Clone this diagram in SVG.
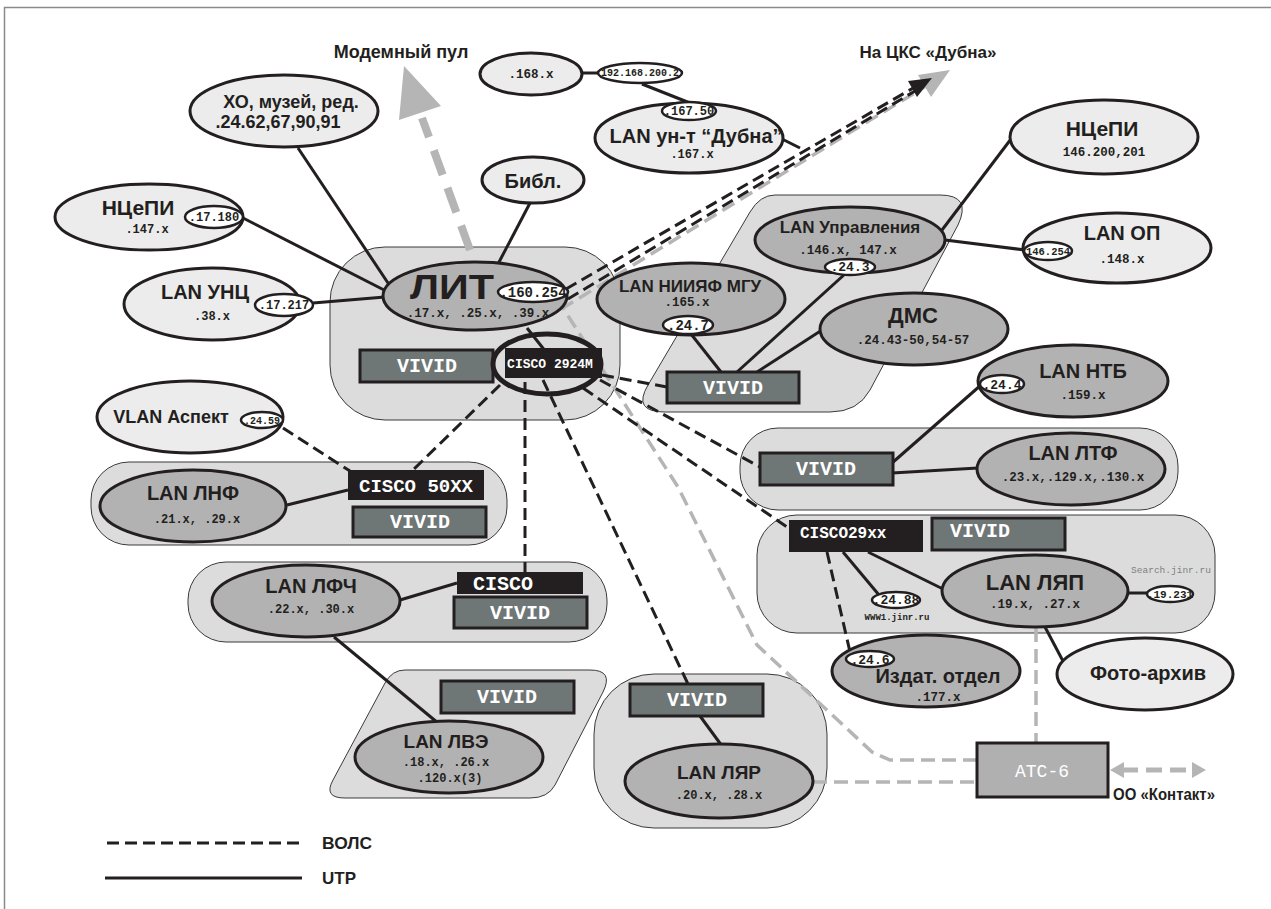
<svg xmlns="http://www.w3.org/2000/svg" width="1271" height="909" viewBox="0 0 1271 909">
<defs>
<style>
.lt{fill:#ececec;stroke:#231f20;stroke-width:3}
.md{fill:#b2b2b2;stroke:#231f20;stroke-width:3}
.ip{fill:#fff;stroke:#231f20;stroke-width:2.5}
.blob{fill:#dcdcdc;stroke:#3a3a3a;stroke-width:1}
.viv{fill:#6f7676;stroke:#231f20;stroke-width:3}
.blk{fill:#231f20}
.utp{stroke:#231f20;stroke-width:3;fill:none}
.fo{stroke:#231f20;stroke-width:3;stroke-dasharray:12 6;fill:none}
.gd{stroke:#b5b5b5;stroke-width:3.5;stroke-dasharray:14 7;fill:none}
.t{font-family:"Liberation Sans",Arial,sans-serif;font-weight:bold;fill:#231f20;text-anchor:middle}
.m{font-family:"Liberation Mono","Courier New",monospace;font-weight:bold;fill:#231f20;text-anchor:middle}
.w{font-family:"Liberation Mono","Courier New",monospace;font-weight:bold;fill:#fff;text-anchor:middle}
.ws{font-family:"Liberation Mono","Courier New",monospace;font-weight:bold;fill:#fff;text-anchor:start}
</style>
</defs>
<rect x="0" y="0" width="1271" height="909" fill="#fff"/>
<path d="M4.5,909 V7.5 H1271" fill="none" stroke="#8a8a8a" stroke-width="1.5"/>

<g id="areas">
<rect class="blob" x="330" y="247" width="290" height="173" rx="55"/>
<path class="blob" d="M775,195 L940,195 Q972,195 958,225 L870,390 Q858,412 830,412 L665,412 Q632,412 648,385 L750,212 Q760,195 775,195 Z"/>
<rect class="blob" x="91" y="462" width="416" height="83" rx="38"/>
<rect class="blob" x="188" y="562" width="419" height="80" rx="38"/>
<path class="blob" d="M405,670 L590,670 Q614,670 603,692 L555,785 Q548,798 530,798 L345,798 Q323,798 333,780 L385,683 Q392,670 405,670 Z"/>
<rect class="blob" x="594" y="674" width="233" height="154" rx="60"/>
<rect class="blob" x="740" y="428" width="438" height="82" rx="38"/>
<rect class="blob" x="757" y="515" width="458" height="118" rx="40"/>
</g>

<g id="connectors">
<line x1="470" y1="250" x2="422" y2="118" stroke="#b5b5b5" stroke-width="8" stroke-dasharray="26 14"/>
<polygon points="404,66 441,106 399,120" fill="#b5b5b5"/>
<polyline class="gd" points="977,760 890,760 872,752 757,645 678,487 563,308 926,86"/>
<polygon points="950,70 931,97 918,75" fill="#b5b5b5"/>
<line class="fo" x1="566" y1="289" x2="915" y2="87"/>
<line class="fo" x1="568" y1="299" x2="915" y2="91"/>
<polygon points="932,78 917,97 908,81" fill="#231f20"/>
<line class="utp" x1="298" y1="148" x2="390" y2="286"/>
<line class="utp" x1="243" y1="218" x2="386" y2="291"/>
<line class="utp" x1="313" y1="303" x2="385" y2="297"/>
<line class="utp" x1="530" y1="203" x2="498" y2="264"/>
<line class="utp" x1="582" y1="73" x2="598" y2="73"/>
<line class="utp" x1="642" y1="84" x2="690" y2="103"/>
<line class="utp" x1="782" y1="139" x2="800" y2="148"/>
<line class="utp" x1="527" y1="328" x2="546" y2="352"/>
<line class="utp" x1="942" y1="230" x2="1011" y2="139"/>
<line class="utp" x1="945" y1="240" x2="1025" y2="250"/>
<line class="utp" x1="845" y1="274" x2="737" y2="372"/>
<line class="utp" x1="757" y1="372" x2="822" y2="330"/>
<line class="utp" x1="691" y1="334" x2="721" y2="372"/>
<line class="utp" x1="981" y1="385" x2="892" y2="463"/>
<line class="utp" x1="892" y1="473" x2="978" y2="468"/>
<line class="utp" x1="287" y1="505" x2="348" y2="490"/>
<line class="utp" x1="400" y1="600" x2="457" y2="583"/>
<line class="utp" x1="334" y1="637" x2="438" y2="723"/>
<line class="utp" x1="700" y1="716" x2="722" y2="746"/>
<line class="utp" x1="868" y1="552" x2="943" y2="589"/>
<line class="utp" x1="843" y1="552" x2="879" y2="595"/>
<line class="utp" x1="1128" y1="593" x2="1147" y2="593"/>
<line class="utp" x1="1045" y1="627" x2="1064" y2="663"/>
<line class="fo" x1="500" y1="385" x2="413" y2="470"/>
<line class="fo" x1="525" y1="382" x2="525" y2="572"/>
<line class="fo" x1="543" y1="380" x2="688" y2="684"/>
<line class="fo" x1="600" y1="380" x2="760" y2="467"/>
<line class="fo" x1="583" y1="388" x2="790" y2="529"/>
<line class="fo" x1="602" y1="375" x2="667" y2="387"/>
<line class="fo" x1="283" y1="428" x2="350" y2="471"/>
<line class="fo" x1="827" y1="552" x2="850" y2="652"/>
<line class="gd" x1="813" y1="782" x2="977" y2="782"/>
<line class="gd" x1="1036" y1="628" x2="1036" y2="743"/>
<line x1="1122" y1="770" x2="1194" y2="770" stroke="#b5b5b5" stroke-width="5" stroke-dasharray="16 8"/>
<polygon points="1110,770 1124,762 1124,778" fill="#b5b5b5"/>
<polygon points="1206,770 1192,762 1192,778" fill="#b5b5b5"/>
</g>

<g id="titles">
<text class="t" x="401" y="58" font-size="18">Модемный пул</text>
<text class="t" x="928" y="58" font-size="17">На ЦКС «Дубна»</text>
</g>

<g id="n-xo"><ellipse class="lt" cx="284" cy="111" rx="94" ry="36"/>
<text class="t" x="291" y="108" font-size="18">ХО, музей, ред.</text>
<text class="t" x="278" y="128" font-size="18">.24.62,67,90,91</text></g>

<g id="n-ncepi1"><ellipse class="lt" cx="149" cy="217" rx="94" ry="33"/>
<text class="t" x="138" y="215" font-size="21">НЦеПИ</text>
<text class="m" x="147" y="233" font-size="12">.147.x</text>
<ellipse class="ip" cx="214" cy="217" rx="29" ry="11"/>
<text class="m" x="214" y="221" font-size="12">.17.180</text></g>

<g id="n-unc"><ellipse class="lt" cx="212" cy="304" rx="88" ry="36"/>
<text class="t" x="205" y="299" font-size="20">LAN УНЦ</text>
<text class="m" x="212" y="320" font-size="12">.38.x</text>
<ellipse class="ip" cx="284" cy="305" rx="29" ry="11"/>
<text class="m" x="284" y="309" font-size="12">.17.217</text></g>

<g id="n-vlan"><ellipse class="lt" cx="190" cy="417" rx="93" ry="36"/>
<text class="t" x="171" y="423" font-size="18">VLAN Аспект</text>
<ellipse class="ip" cx="262" cy="420" rx="21" ry="8"/>
<text class="m" x="262" y="424" font-size="10">.24.59</text></g>

<g id="n-bibl"><ellipse class="lt" cx="533" cy="180" rx="51" ry="23"/>
<text class="t" x="533" y="188" font-size="20">Библ.</text></g>

<g id="n-168"><ellipse class="lt" cx="531" cy="74" rx="51" ry="21"/>
<text class="m" x="531" y="78" font-size="12.5">.168.x</text>
<ellipse class="ip" cx="640" cy="73" rx="42" ry="10"/>
<text class="m" x="640" y="76" font-size="10">192.168.200.2</text></g>

<g id="n-dubna"><ellipse class="lt" cx="689" cy="138" rx="94" ry="35"/>
<ellipse class="ip" cx="689" cy="111" rx="27" ry="9"/>
<text class="m" x="689" y="115" font-size="12">.167.50</text>
<text class="t" x="696" y="143" font-size="20">LAN ун-т “Дубна”</text>
<text class="m" x="692" y="158" font-size="12">.167.x</text></g>

<g id="n-lit"><ellipse class="md" cx="475" cy="296" rx="92" ry="34"/>
<text class="t" x="452" y="299" font-size="35" textLength="84" lengthAdjust="spacingAndGlyphs">ЛИТ</text>
<ellipse class="ip" cx="533" cy="292" rx="35" ry="10"/>
<text class="m" x="533" y="297" font-size="14">.160.254</text>
<text class="m" x="478" y="317" font-size="12.5">.17.x, .25.x, .39.x</text></g>

<g id="n-lit-vivid"><rect class="viv" x="360" y="350" width="133" height="32"/>
<text class="w" x="427" y="372" font-size="20">VIVID</text></g>

<g id="n-cisco2924"><rect class="blk" x="505" y="348" width="97" height="30"/>
<text class="w" x="550" y="368" font-size="13">CISCO 2924M</text>
<ellipse cx="547" cy="364" rx="54" ry="30" fill="none" stroke="#231f20" stroke-width="5"/></g>

<g id="n-cisco50"><rect class="blk" x="348" y="470" width="136" height="30"/>
<text class="w" x="416" y="492" font-size="19">CISCO 50XX</text>
<rect class="viv" x="353" y="507" width="133" height="30"/>
<text class="w" x="420" y="528" font-size="20">VIVID</text></g>

<g id="n-lnf"><ellipse class="md" cx="193" cy="506" rx="93" ry="36"/>
<text class="t" x="193" y="500" font-size="20">LAN ЛНФ</text>
<text class="m" x="197" y="523" font-size="12">.21.x, .29.x</text></g>

<g id="n-lfch"><ellipse class="md" cx="306" cy="601" rx="94" ry="36"/>
<text class="t" x="311" y="593" font-size="20">LAN ЛФЧ</text>
<text class="m" x="311" y="613" font-size="12">.22.x, .30.x</text>
<rect class="blk" x="457" y="572" width="126" height="22"/>
<text class="ws" x="473" y="590" font-size="20">CISCO</text>
<rect class="viv" x="454" y="597" width="133" height="31"/>
<text class="w" x="520" y="619" font-size="20">VIVID</text></g>

<g id="n-lve"><rect class="viv" x="441" y="681" width="133" height="32"/>
<text class="w" x="507" y="703" font-size="20">VIVID</text>
<ellipse class="md" cx="449" cy="757" rx="94" ry="36"/>
<text class="t" x="446" y="748" font-size="19">LAN ЛВЭ</text>
<text class="m" x="446" y="766" font-size="12">.18.x, .26.x</text>
<text class="m" x="450" y="782" font-size="12">.120.x(3)</text></g>

<g id="n-lyar"><rect class="viv" x="630" y="684" width="133" height="32"/>
<text class="w" x="697" y="706" font-size="20">VIVID</text>
<ellipse class="md" cx="719" cy="781" rx="94" ry="37"/>
<text class="t" x="719" y="779" font-size="19">LAN ЛЯР</text>
<text class="m" x="719" y="799" font-size="12">.20.x, .28.x</text></g>

<g id="n-niiyaf"><ellipse class="md" cx="691" cy="299" rx="94" ry="36"/>
<text class="t" x="690" y="292" font-size="17">LAN НИИЯФ МГУ</text>
<text class="m" x="687" y="306" font-size="12.5">.165.x</text>
<ellipse class="ip" cx="688" cy="325" rx="25" ry="9"/>
<text class="m" x="688" y="330" font-size="14">.24.7</text>
<rect class="viv" x="667" y="372" width="132" height="31"/>
<text class="w" x="733" y="394" font-size="20">VIVID</text></g>

<g id="n-uprav"><ellipse class="md" cx="850" cy="240" rx="95" ry="33"/>
<text class="t" x="850" y="233" font-size="17">LAN Управления</text>
<text class="m" x="848" y="254" font-size="12.5">.146.x, 147.x</text>
<ellipse class="ip" cx="850" cy="267" rx="25" ry="8"/>
<text class="m" x="850" y="271" font-size="13">.24.3</text></g>

<g id="n-ncepi2"><ellipse class="lt" cx="1104" cy="137" rx="94" ry="37"/>
<text class="t" x="1102" y="136" font-size="21">НЦеПИ</text>
<text class="m" x="1104" y="156" font-size="12.5">146.200,201</text></g>

<g id="n-op"><ellipse class="lt" cx="1117" cy="248" rx="94" ry="35"/>
<text class="t" x="1122" y="240" font-size="20">LAN ОП</text>
<text class="m" x="1122" y="263" font-size="12.5">.148.x</text>
<ellipse class="ip" cx="1048" cy="251" rx="24" ry="9"/>
<text class="m" x="1048" y="255" font-size="10.5">146.254</text></g>

<g id="n-dms"><ellipse class="md" cx="914" cy="329" rx="94" ry="36"/>
<text class="t" x="913" y="323" font-size="22">ДМС</text>
<text class="m" x="913" y="344" font-size="12.5">.24.43-50,54-57</text></g>

<g id="n-ntb"><ellipse class="md" cx="1073" cy="381" rx="95" ry="36"/>
<text class="t" x="1083" y="378" font-size="20">LAN НТБ</text>
<text class="m" x="1083" y="399" font-size="12.5">.159.x</text>
<ellipse class="ip" cx="1002" cy="384" rx="22" ry="9"/>
<text class="m" x="1002" y="389" font-size="13">.24.4</text></g>

<g id="n-ltf"><rect class="viv" x="760" y="453" width="133" height="32"/>
<text class="w" x="826" y="475" font-size="20">VIVID</text>
<ellipse class="md" cx="1071" cy="469" rx="94" ry="36"/>
<text class="t" x="1073" y="460" font-size="20">LAN ЛТФ</text>
<text class="m" x="1073" y="481" font-size="12.5">.23.x,.129.x,.130.x</text></g>

<g id="n-lyap"><rect class="blk" x="789" y="520" width="134" height="32"/>
<text class="ws" x="800" y="538" font-size="16">CISCO29xx</text>
<rect class="viv" x="932" y="518" width="133" height="32"/>
<text class="ws" x="950" y="537" font-size="20">VIVID</text>
<ellipse class="md" cx="1035" cy="591" rx="93" ry="36"/>
<text class="t" x="1035" y="590" font-size="22">LAN ЛЯП</text>
<text class="m" x="1035" y="608" font-size="12.5">.19.x, .27.x</text>
<ellipse class="ip" cx="896" cy="600" rx="24" ry="8"/>
<text class="m" x="896" y="604" font-size="13">.24.88</text>
<text class="m" x="897" y="620" font-size="9">WWW1.jinr.ru</text>
<text x="1171" y="573" font-family="Liberation Mono,Courier New,monospace" font-size="9.5" fill="#808080" text-anchor="middle">Search.jinr.ru</text>
<ellipse class="ip" cx="1170" cy="594" rx="23" ry="8"/>
<text class="m" x="1170" y="598" font-size="11">.19.231</text></g>

<g id="n-izdat"><ellipse class="md" cx="926" cy="671" rx="94" ry="36"/>
<text class="t" x="938" y="683" font-size="20">Издат. отдел</text>
<text class="m" x="938" y="701" font-size="12.5">.177.x</text>
<ellipse class="ip" cx="870" cy="659" rx="24" ry="8"/>
<text class="m" x="870" y="664" font-size="13">.24.6</text></g>

<g id="n-foto"><ellipse class="lt" cx="1145" cy="674" rx="88" ry="36"/>
<text class="t" x="1148" y="680" font-size="20">Фото-архив</text></g>

<g id="n-ats"><rect x="977" y="743" width="131" height="54" fill="#b0b0b0" stroke="#231f20" stroke-width="3"/>
<text x="1042" y="777" font-family="Liberation Mono,Courier New,monospace" font-size="18" fill="#fff" text-anchor="middle">АТС-6</text></g>

<g id="n-kontakt">
<text class="t" x="1164" y="800" font-size="17" textLength="102" lengthAdjust="spacingAndGlyphs">ОО «Контакт»</text></g>

<g id="legend">
<line class="fo" x1="107" y1="843" x2="304" y2="843"/>
<text x="322" y="849" font-family="Liberation Sans,Arial,sans-serif" font-weight="bold" font-size="17" fill="#231f20" textLength="50" lengthAdjust="spacingAndGlyphs">ВОЛС</text>
<line class="utp" x1="105" y1="878" x2="302" y2="878"/>
<text x="322" y="884" font-family="Liberation Sans,Arial,sans-serif" font-weight="bold" font-size="17" fill="#231f20">UTP</text>
</g>
</svg>
